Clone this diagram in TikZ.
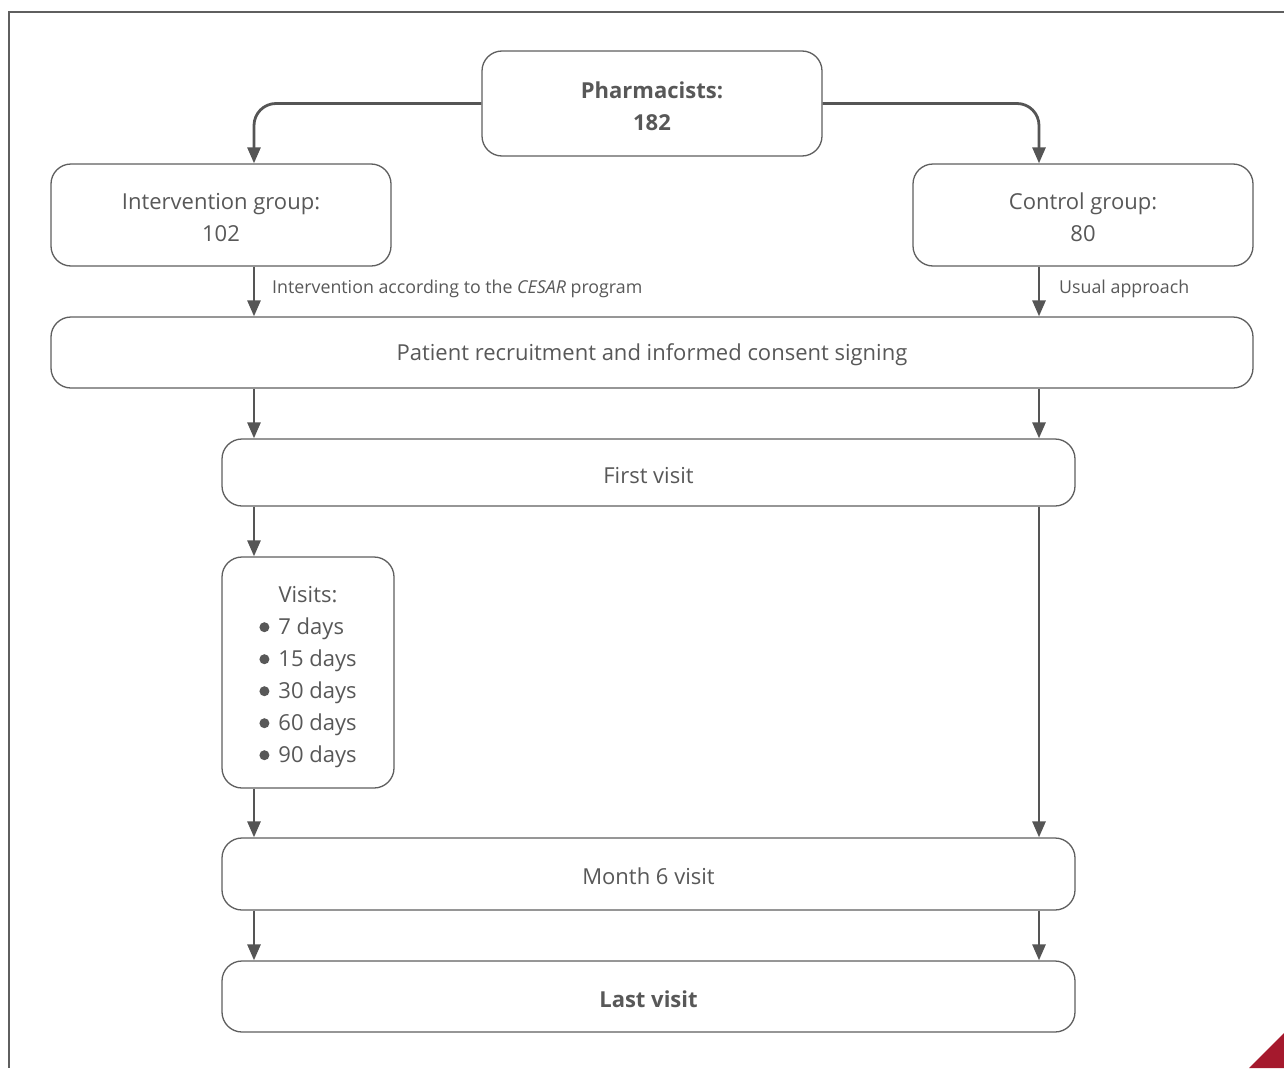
\documentclass[tikz,border=0pt]{standalone}
\usepackage{fontspec}
\setmainfont{Open Sans}
\usetikzlibrary{arrows.meta}
\definecolor{txt}{RGB}{88,88,88}
\definecolor{ln}{RGB}{85,85,85}
\definecolor{boxln}{RGB}{95,95,95}
\definecolor{red}{RGB}{165,25,45}
\newcommand\dn{\rule{0pt}{22pt}}
\newcommand\bul{\tikz[x=1pt,y=1pt,baseline=0pt]\fill[txt] (0,7.5) circle (5);\hspace{9pt}}
\begin{document}
\begin{tikzpicture}[x=1pt,y=-1pt,
  box/.style={draw=boxln,line width=1.3pt,rounded corners=20pt,fill=white,text=txt,align=center,inner sep=0pt},
  conn/.style={draw=ln,line width=2.8pt,-{Triangle[length=16pt,width=13pt]}},
  lbl/.style={text=txt,anchor=west,font=\fontsize{17.8}{22}\selectfont,inner sep=0pt},
  every node/.style={font=\fontsize{22}{32}\selectfont}]
\path[use as bounding box] (0,0) rectangle (1284,1068);
\draw[draw=boxln,line width=1.2pt] (1284,12) -- (9,12) -- (9,1068);
\fill[red] (1284,1033) -- (1284,1068) -- (1249,1068) -- cycle;

\node[box,minimum width=340pt,minimum height=105pt] (ph) at (652,103.5) {\dn\bfseries Pharmacists:\\\bfseries 182};
\node[box,minimum width=340pt,minimum height=102pt] (ig) at (221,215) {\dn Intervention group:\\102};
\node[box,minimum width=340pt,minimum height=102pt] (cg) at (1083,215) {\dn Control group:\\80};
\node[box,minimum width=1202pt,minimum height=71pt] (pr) at (652,352.5) {\dn Patient recruitment and informed consent signing};
\node[box,minimum width=853pt,minimum height=67pt] (fv) at (648.5,472.5) {\dn First visit};
\node[box,minimum width=172pt,minimum height=231pt] (vs) at (308,672.5) {\begin{tabular}{@{}l@{}}\multicolumn{1}{c}{\rule{0pt}{30pt}Visits:}\\ \bul 7 days\\ \bul 15 days\\ \bul 30 days\\ \bul 60 days\\ \bul 90 days\end{tabular}};
\node[box,minimum width=853pt,minimum height=72pt] (m6) at (648.5,874) {\dn Month 6 visit};
\node[box,minimum width=853pt,minimum height=71pt] (lv) at (648.5,996.5) {\dn\bfseries Last visit};

\coordinate (L) at (254,0);
\coordinate (R) at (1039,0);

\draw[conn,rounded corners=22pt] (ph.west) -| (L |- ig.north);
\draw[conn,rounded corners=22pt] (ph.east) -| (R |- cg.north);
\draw[conn] (L |- ig.south) -- (L |- pr.north);
\draw[conn] (R |- cg.south) -- (R |- pr.north);
\node[lbl] (l1) at (272,289) {Intervention according to the \textit{CESAR} program};
\node[lbl] (l2) at (1059,289) {Usual approach};
\draw[conn] (L |- pr.south) -- (L |- fv.north);
\draw[conn] (R |- pr.south) -- (R |- fv.north);
\draw[conn] (L |- fv.south) -- (L |- vs.north);
\draw[conn] (R |- fv.south) -- (R |- m6.north);
\draw[conn] (L |- vs.south) -- (L |- m6.north);
\draw[conn] (L |- m6.south) -- (L |- lv.north);
\draw[conn] (R |- m6.south) -- (R |- lv.north);
\end{tikzpicture}
\end{document}
